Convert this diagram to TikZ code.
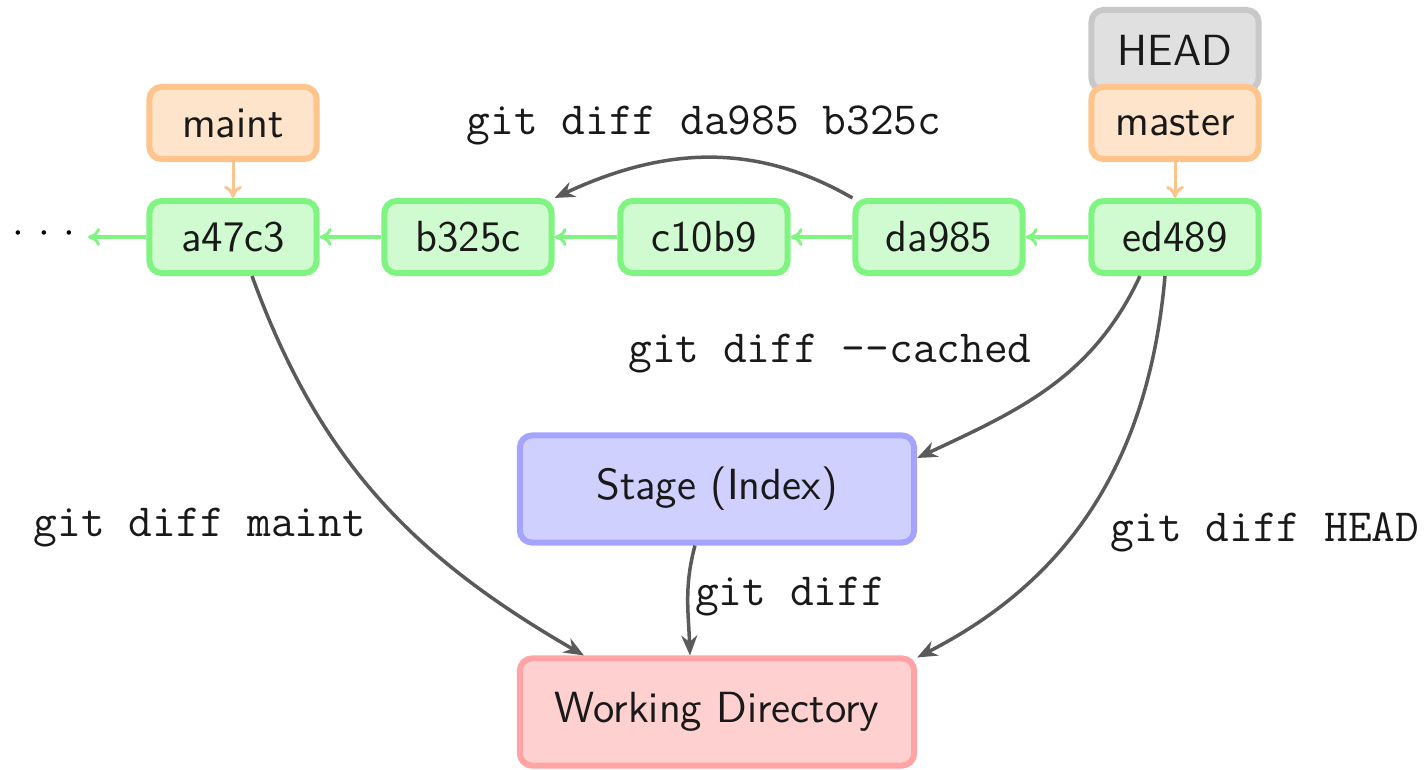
\documentclass[tikz,border=0pt]{standalone}
\usetikzlibrary{arrows.meta}
\definecolor{cgreenf}{RGB}{208,250,208}
\definecolor{cgreend}{RGB}{128,244,128}
\definecolor{corangef}{RGB}{255,228,204}
\definecolor{coranged}{RGB}{255,196,140}
\definecolor{cbluef}{RGB}{208,208,255}
\definecolor{cblued}{RGB}{164,164,255}
\definecolor{credf}{RGB}{255,208,208}
\definecolor{credd}{RGB}{255,164,164}
\definecolor{cgrayf}{RGB}{224,224,224}
\definecolor{cgrayd}{RGB}{200,200,200}
\definecolor{carrow}{RGB}{90,90,90}
\begin{document}
\begin{tikzpicture}[x=0.01cm,y=0.01cm,
  font=\fontsize{12.4}{15}\selectfont\sffamily,
  box/.style={draw,rounded corners=0.12cm,line width=0.06cm,inner sep=0pt,text=black!90},
  commit/.style={box,fill=cgreenf,draw=cgreend,minimum width=1.67cm,minimum height=0.72cm},
  branch/.style={box,fill=corangef,draw=coranged,minimum width=1.67cm,minimum height=0.72cm},
  headbox/.style={box,fill=cgrayf,draw=cgrayd,minimum width=1.67cm,minimum height=0.8cm},
  area/.style={box,minimum width=3.94cm,minimum height=1.07cm},
  glink/.style={draw=cgreend,line width=0.03cm,-{To[length=0.12cm,width=0.18cm]}},
  olink/.style={draw=coranged,line width=0.03cm,-{To[length=0.12cm,width=0.18cm]}},
  darrow/.style={draw=carrow,line width=0.035cm,-{Stealth[length=0.2cm,width=0.16cm]}},
  cmd/.style={font=\fontsize{13.1}{15}\selectfont\ttfamily,text=black!90,inner sep=0pt}
]
\useasboundingbox (0,0) rectangle (1427,-770);
% commits
\node[commit] (a47c3) at (233,-237) {a47c3};
\node[commit] (b325c) at (468,-237) {b325c};
\node[commit] (c10b9) at (704,-237) {c10b9};
\node[commit] (da985) at (939,-237) {da985};
\node[commit] (ed489) at (1175,-237) {ed489};
\node[inner sep=0pt] (dots) at (44,-234) {${\cdot}\hspace{0.14cm}{\cdot}\hspace{0.14cm}{\cdot}$};
\coordinate (dotsend) at (88,-237);
% branches
\node[branch] (maint) at (233,-123) {maint};
\node[headbox] (head) at (1175,-50) {HEAD};
\node[branch] (master) at (1175,-123) {master};
% areas
\node[area,fill=cbluef,draw=cblued] (stage) at (717,-489) {Stage (Index)};
\node[area,fill=credf,draw=credd] (wd) at (717,-712) {Working Directory};
% green history links
\draw[glink] (ed489) -- (da985);
\draw[glink] (da985) -- (c10b9);
\draw[glink] (c10b9) -- (b325c);
\draw[glink] (b325c) -- (a47c3);
\draw[glink] (a47c3) -- (dotsend);
% branch pointers
\draw[olink] (maint) -- (a47c3);
\draw[olink] (master) -- (ed489);
% diff arrows
\draw[darrow] (da985.north west) to[out=150,in=25] (b325c.north east);
\draw[darrow] ([xshift=-0.35cm]ed489.south) to[out=-115,in=25] (stage.east |- 0,-458);
\draw[darrow] ([xshift=-0.1cm]ed489.south) to[out=-95,in=27] ([yshift=-0.02cm]wd.north east);
\draw[darrow] ([xshift=0.19cm]a47c3.south) to[out=-70,in=150] ([xshift=-1.33cm]wd.north);
\draw[darrow] ([xshift=-0.22cm]stage.south) to[out=-105,in=92] ([xshift=-0.27cm]wd.north);
% labels
\node[cmd] (l1) at (704,-125) {git diff da985 b325c};
\node[cmd] (l2) at (830,-354) {git diff -{}-cached};
\node[cmd] (l3) at (200,-528) {git diff maint};
\node[cmd] (l4) at (1265,-532) {git diff HEAD};
\node[cmd] (l5) at (790,-597) {git diff};
\end{tikzpicture}
\end{document}
